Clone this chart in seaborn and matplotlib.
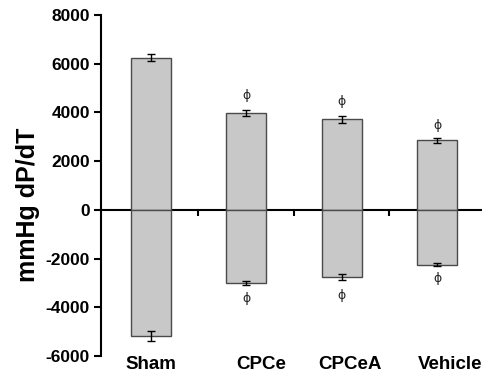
import matplotlib
matplotlib.use("Agg")
import matplotlib.pyplot as plt
import seaborn as sns
import numpy as np

categories = ["Sham", "CPCe", "CPCeA", "Vehicle"]
pos_values = [6250, 3980, 3720, 2850]
pos_err = [150, 110, 140, 120]
neg_values = [-5170, -3010, -2760, -2250]
neg_err = [200, 80, 140, 50]
phi_above = [None, 4680, 4430, 3450]
phi_below = [None, -3650, -3530, -2830]
yticks = [-6000, -4000, -2000, 0, 2000, 4000, 6000, 8000]
label_offsets = [0.0, 0.16, 0.09, 0.14]

sns.set_theme(style="white", rc={"text.color": "black", "axes.labelcolor": "black",
                                 "xtick.color": "black", "ytick.color": "black"})
plt.rcParams['font.family'] = ['Liberation Sans', 'DejaVu Sans']

fig = plt.figure(figsize=(4.82, 3.77), dpi=100)
ax = fig.add_axes([101/482, 1-356/377, 1-101/482, (356-15)/377])

bar_kw = dict(color="#c8c8c8", edgecolor="#4a4a4a", linewidth=1.0, width=0.42, errorbar=None, ax=ax)
sns.barplot(x=categories, y=pos_values, **bar_kw)
sns.barplot(x=categories, y=neg_values, **bar_kw)

xs = np.arange(len(categories))
ax.errorbar(xs, pos_values, yerr=pos_err, fmt="none", ecolor="black", elinewidth=1.0, capsize=3.2, capthick=1.0)
ax.errorbar(xs, neg_values, yerr=neg_err, fmt="none", ecolor="black", elinewidth=1.0, capsize=3.2, capthick=1.0)

for i, (a, b) in enumerate(zip(phi_above, phi_below)):
    if a is not None:
        ax.text(i, a, "ϕ", ha="center", va="center", fontsize=9, color="#222222", family=['DejaVu Sans'])
    if b is not None:
        ax.text(i, b, "ϕ", ha="center", va="center", fontsize=9, color="#222222", family=['DejaVu Sans'])

ax.set_ylim(-6000, 8000)
ax.set_xlim(-0.52, 3.47)
ax.set_yticks(yticks)
ax.set_yticklabels([str(t) for t in yticks], fontsize=12.5, fontweight="bold", color="black")
ax.set_xticks(xs + np.array(label_offsets))
ax.set_xticklabels(categories, fontsize=13.5, fontweight="bold", color="black")
ax.tick_params(axis="x", length=0, pad=0)
ax.tick_params(axis="y", direction="out", length=5, width=1.5, color="black", pad=3, left=True)
ax.set_ylabel("mmHg dP/dT", fontsize=18, fontweight="bold", color="black")
ax.yaxis.set_label_coords(-0.16, 0.443)

for s in ["top", "right", "bottom"]:
    ax.spines[s].set_visible(False)
ax.spines["left"].set_color("black")
ax.spines["left"].set_linewidth(1.5)

zero_frac = (0 - (-6000)) / (8000 - (-6000))
sec = ax.secondary_xaxis(zero_frac)
sec.set_xticks([0.5, 1.5, 2.5])
sec.set_xticklabels([])
sec.tick_params(axis="x", direction="out", length=4, width=1.5, color="black")
sec.spines["bottom"].set_color("black")
sec.spines["bottom"].set_linewidth(1.5)
for s in ["top", "left", "right"]:
    if s in sec.spines:
        sec.spines[s].set_visible(False)

fig.savefig("out.png", dpi=100)
